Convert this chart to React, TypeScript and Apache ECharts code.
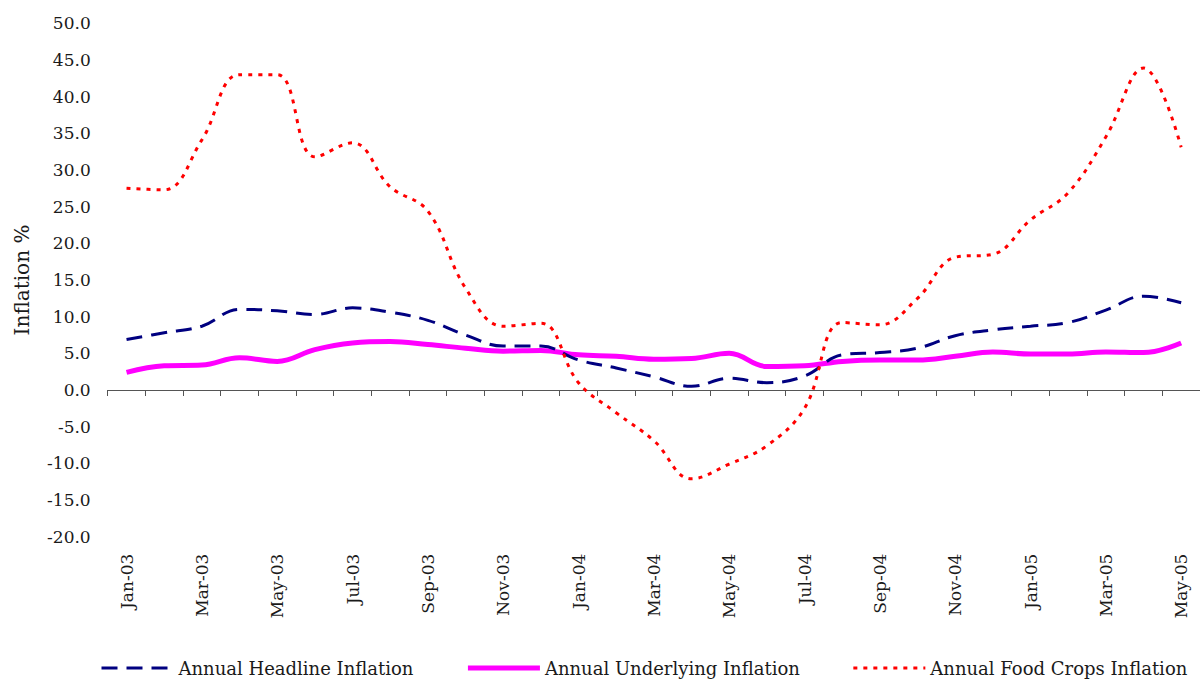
import React, { useEffect, useRef } from "react";
import * as echarts from "echarts";

const months: string[] = [
  "Jan-03", "Feb-03", "Mar-03", "Apr-03", "May-03", "Jun-03", "Jul-03", "Aug-03", "Sep-03", "Oct-03", "Nov-03", "Dec-03",
  "Jan-04", "Feb-04", "Mar-04", "Apr-04", "May-04", "Jun-04", "Jul-04", "Aug-04", "Sep-04", "Oct-04", "Nov-04", "Dec-04",
  "Jan-05", "Feb-05", "Mar-05", "Apr-05", "May-05",
];

const headline: number[] = [
  6.9, 7.8, 8.7, 11.0, 10.8, 10.3, 11.2, 10.6, 9.5, 7.5, 6.0, 6.0,
  4.1, 3.0, 1.8, 0.5, 1.6, 1.0, 1.9, 4.8, 5.1, 5.7, 7.4, 8.2,
  8.7, 9.2, 10.9, 12.8, 11.9,
];

const underlying: number[] = [
  2.4, 3.3, 3.4, 4.4, 3.9, 5.5, 6.4, 6.6, 6.2, 5.7, 5.3, 5.4,
  4.8, 4.6, 4.2, 4.3, 5.0, 3.2, 3.3, 3.9, 4.1, 4.1, 4.6, 5.2,
  4.9, 4.9, 5.2, 5.1, 6.4,
];

const foodCrops: number[] = [
  27.5, 27.3, 34.1, 43.0, 43.0, 31.8, 33.7, 27.7, 24.4, 13.9, 8.7, 9.1,
  1.0, -3.1, -6.9, -12.1, -10.1, -7.6, -2.5, 9.2, 8.9, 12.5, 18.1, 18.5,
  23.2, 26.9, 34.5, 43.9, 33.1,
];

const seriesNames: string[] = [
  "Annual Headline Inflation",
  "Annual Underlying Inflation",
  "Annual Food Crops Inflation",
];

const FONT = "'DejaVu Serif', serif";

export default function App() {
  const ref = useRef<HTMLDivElement>(null);

  useEffect(() => {
    if (!ref.current) return;
    const chart = echarts.init(ref.current, undefined, { renderer: "svg" });
    const headStyle = { color: "#000080", width: 3, type: [16, 9] as number[] };
    const underStyle = { color: "#FF00FF", width: 5, type: "solid" as const };
    const foodStyle = { color: "#FF0000", width: 3, type: [4, 6] as number[] };
    chart.setOption({
      animation: false,
      backgroundColor: "#ffffff",
      textStyle: { fontFamily: FONT },
      grid: { left: 107.7, right: -4.6, top: 23.3, bottom: 145.3, containLabel: false },
      legend: {
        left: 95,
        top: 654,
        itemWidth: 72,
        itemHeight: 20,
        itemGap: 52,
        textStyle: { fontFamily: FONT, fontSize: 18, color: "#1a1a1a" },
        itemStyle: { opacity: 0 },
        data: [
          { name: seriesNames[0], lineStyle: { width: 3 } },
          { name: seriesNames[1], lineStyle: { width: 5 } },
          { name: seriesNames[2], lineStyle: { width: 3 } },
        ],
      },
      xAxis: {
        type: "category",
        data: months,
        boundaryGap: true,
        axisLine: { show: true, lineStyle: { color: "#555", width: 1 } },
        axisTick: { show: true, interval: 0, length: 6, inside: false, lineStyle: { color: "#555" } },
        axisLabel: {
          interval: 1,
          rotate: 90,
          margin: 17,
          fontFamily: FONT,
          fontSize: 17,
          color: "#1a1a1a",
        },
        splitLine: { show: false },
      },
      yAxis: {
        type: "value",
        min: -20,
        max: 50,
        interval: 5,
        name: "Inflation %",
        nameLocation: "middle",
        nameGap: 76,
        nameRotate: 90,
        nameTextStyle: { fontFamily: FONT, fontSize: 20, color: "#1a1a1a" },
        axisLine: { show: false },
        axisTick: { show: false },
        splitLine: { show: false },
        axisLabel: {
          margin: 17,
          fontFamily: FONT,
          fontSize: 17,
          color: "#1a1a1a",
          formatter: (v: number) => v.toFixed(1),
        },
      },
      series: [
        {
          name: seriesNames[0],
          type: "line",
          data: headline,
          smooth: 0.4,
          symbol: "none",
          showSymbol: false,
          lineStyle: headStyle,
          itemStyle: { color: "#000080" },
          z: 3,
        },
        {
          name: seriesNames[1],
          type: "line",
          data: underlying,
          smooth: 0.4,
          symbol: "none",
          showSymbol: false,
          lineStyle: underStyle,
          itemStyle: { color: "#FF00FF" },
          z: 2,
        },
        {
          name: seriesNames[2],
          type: "line",
          data: foodCrops,
          smooth: 0.4,
          symbol: "none",
          showSymbol: false,
          lineStyle: foodStyle,
          itemStyle: { color: "#FF0000" },
          z: 4,
        },
      ],
    });
    return () => chart.dispose();
  }, []);

  return (
    <div
      ref={ref}
      style={{ position: "absolute", left: 0, top: 0, width: 1200, height: 682, background: "#fff" }}
    />
  );
}
